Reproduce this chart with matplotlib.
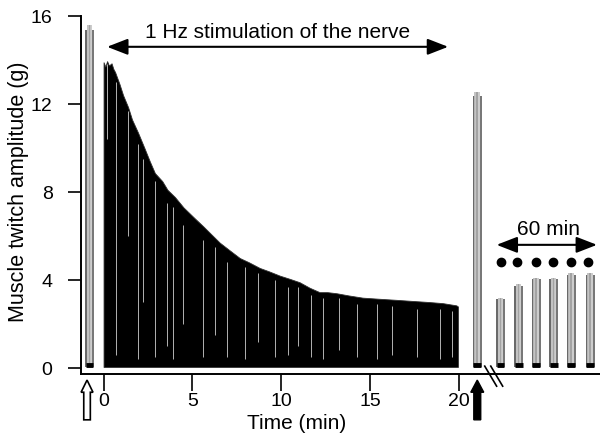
import matplotlib
matplotlib.use('Agg')
import matplotlib.pyplot as plt
from matplotlib.patches import FancyArrow
from matplotlib.transforms import blended_transform_factory

plt.rcParams['font.family'] = ['Liberation Sans', 'DejaVu Sans']

# ---------------- data ----------------
# upper envelope of the 1 Hz twitch train (time in min, amplitude in g)
env_t = [0.0, 0.1, 0.2, 0.3, 0.45, 0.55, 0.65, 0.9, 1.1, 1.38, 1.6, 1.94, 2.3,
         2.6, 2.89, 3.3, 3.6, 4.02, 4.5, 5.14, 5.6, 6.1, 6.54, 7.1, 7.67, 8.2,
         8.79, 9.3, 9.92, 10.5, 11.04, 11.6, 12.16, 12.6, 13.12, 13.8, 14.58,
         15.5, 16.49, 17.4, 18.34, 19.1, 19.86, 19.95]
env_amp = [13.9, 13.7, 13.95, 13.75, 13.85, 13.6, 13.45, 12.9, 12.4, 11.86,
           11.3, 10.7, 10.0, 9.4, 8.86, 8.5, 8.1, 7.77, 7.3, 6.8, 6.45, 6.05,
           5.7, 5.35, 5.0, 4.8, 4.55, 4.4, 4.2, 4.05, 3.9, 3.65, 3.45, 3.45,
           3.4, 3.3, 3.2, 3.15, 3.1, 3.05, 3.0, 2.95, 2.85, 2.8]
train_base = 0.05

# missed twitches visible as light streaks inside the train
gap_t = [0.2, 0.7, 1.38, 1.94, 2.22, 2.9, 3.57, 3.9, 4.47, 5.6, 6.27, 6.95,
         7.96, 8.7, 9.64, 10.37, 10.93, 11.7, 12.34, 13.24, 14.25, 15.37,
         16.23, 17.63, 18.93, 19.6]
gap_lo = [10.4, 0.6, 6.0, 0.4, 3.0, 0.5, 1.0, 0.4, 2.0, 0.5, 1.5, 0.5,
          0.4, 1.2, 0.5, 0.6, 1.0, 0.5, 0.4, 0.8, 0.5, 0.4, 0.6, 0.5, 0.4, 0.5]
gap_hi = [13.8, 13.0, 11.7, 10.2, 9.5, 8.5, 7.5, 7.3, 6.5, 5.8, 5.5, 4.8,
          4.6, 4.3, 4.0, 3.7, 3.7, 3.3, 3.2, 3.2, 2.9, 2.9, 2.8, 2.7, 2.7, 2.6]

# tetanic/test bursts: centre time (min, axis scale) and amplitude (g)
burst_t = [-0.79, 21.04, 22.35, 23.37, 24.35, 25.34, 26.33, 27.4]
burst_amp = [15.6, 12.55, 3.2, 3.8, 4.1, 4.1, 4.3, 4.3]
dot_t = [22.4, 23.3, 24.35, 25.3, 26.3, 27.25]
dot_amp = 4.8

arrow_t = [-0.93, 21.04]           # open arrow, filled arrow
xticks = [0, 5, 10, 15, 20]
yticks = [0, 4, 8, 12, 16]

# ---------------- figure ----------------
fig = plt.figure(figsize=(6.0, 4.36), dpi=100)
ax = fig.add_axes([0.135, 0.1422, 0.865, 0.8211])
ax.set_xlim(-1.27, 27.95)
ax.set_ylim(-0.27, 16)

# main train
ax.fill_between(env_t, train_base, env_amp, color='black', lw=0.6,
                edgecolor='#303030', zorder=2)
ax.vlines(gap_t, gap_lo, gap_hi, color='#d0d0d0', lw=0.6, zorder=3)

# bursts
offs = [-0.2, -0.1, 0.0, 0.1, 0.2]
cols = ['#5a5a5a', '#bdbdbd', '#9a9a9a', '#c8c8c8', '#6a6a6a']
for t, a in zip(burst_t, burst_amp):
    for o, c in zip(offs, cols):
        ax.vlines(t + o, 0.05, a * (0.985 if c in ('#5a5a5a', '#6a6a6a') else 1.0),
                  color=c, lw=1.3, zorder=2)
    ax.plot([t - 0.22, t + 0.22], [0.12, 0.12], color='black', lw=3.5,
            solid_capstyle='butt', zorder=3)

ax.plot(dot_t, [dot_amp] * len(dot_t), 'o', color='black', ms=6, zorder=4)

# annotations
ax.annotate('', xy=(19.4, 14.6), xytext=(0.2, 14.6),
            arrowprops=dict(arrowstyle='<|-|>,head_length=0.9,head_width=0.35',
                            color='black', lw=1.5, mutation_scale=14,
                            shrinkA=0, shrinkB=0))
ax.text(9.81, 14.8, '1 Hz stimulation of the nerve', ha='center', va='bottom',
        fontsize=15)
ax.annotate('', xy=(27.78, 5.6), xytext=(22.13, 5.6),
            arrowprops=dict(arrowstyle='<|-|>,head_length=0.9,head_width=0.35',
                            color='black', lw=1.5, mutation_scale=14,
                            shrinkA=0, shrinkB=0), annotation_clip=False)
ax.text(25.06, 5.85, '60 min', ha='center', va='bottom', fontsize=15)

# event arrows below the axis
bt = blended_transform_factory(ax.transData, ax.transAxes)
ax.add_patch(FancyArrow(arrow_t[0], -0.128, 0, 0.111, width=0.37,
                        head_width=0.67, head_length=0.034,
                        length_includes_head=True, fc='white', ec='black',
                        lw=1.2, transform=bt, clip_on=False))
ax.add_patch(FancyArrow(arrow_t[1], -0.128, 0, 0.111, width=0.39,
                        head_width=0.73, head_length=0.034,
                        length_includes_head=True, fc='black', ec='black',
                        lw=1.0, transform=bt, clip_on=False))

# axis break marks
for d in (0.0, 0.34):
    ax.plot([21.46 + d, 22.13 + d], [0.022, -0.034], color='black', lw=1.2,
            transform=bt, clip_on=False, zorder=5)

# axes styling
for s in ('top', 'right'):
    ax.spines[s].set_visible(False)
for s in ('left', 'bottom'):
    ax.spines[s].set_linewidth(1.4)
ax.set_xticks(xticks)
ax.set_yticks(yticks)
ax.tick_params(axis='y', direction='out', length=9.5, width=1.2, pad=11,
               labelsize=14)
ax.tick_params(axis='x', direction='out', length=12, width=1.2, pad=2,
               labelsize=14)
ax.set_xlabel('Time (min)', fontsize=15)
ax.set_ylabel('Muscle twitch amplitude (g)', fontsize=15.5)
ax.xaxis.set_label_coords(0.416, -0.113)
ax.yaxis.set_label_coords(-0.101, 0.51)

fig.savefig('out.png', dpi=100)
